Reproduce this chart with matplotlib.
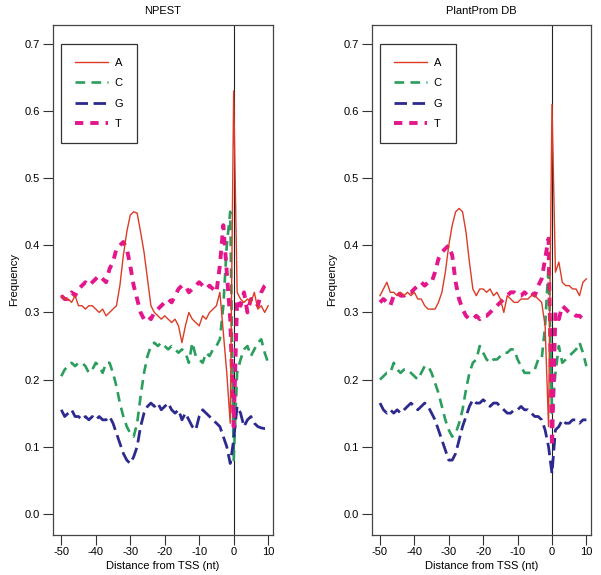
import numpy as np
import matplotlib
matplotlib.use('Agg')
import matplotlib.pyplot as plt

plt.rcParams['font.family'] = ['Liberation Sans', 'DejaVu Sans']
plt.rcParams['axes.unicode_minus'] = False
plt.rcParams['lines.scale_dashes'] = False

# positions relative to the TSS
pos = np.arange(-50, 11)

# NPEST base frequencies
npest_A = [0.325, 0.32, 0.32, 0.315, 0.325, 0.31, 0.31, 0.305, 0.31, 0.31,
           0.305, 0.30, 0.305, 0.295, 0.30, 0.305, 0.31, 0.34, 0.385, 0.42,
           0.445, 0.45, 0.448, 0.42, 0.39, 0.35, 0.31, 0.30, 0.295, 0.29,
           0.295, 0.29, 0.285, 0.29, 0.28, 0.255, 0.28, 0.30, 0.29, 0.285,
           0.28, 0.295, 0.29, 0.30, 0.305, 0.31, 0.33, 0.27, 0.21, 0.135,
           0.63, 0.33, 0.32, 0.315, 0.32, 0.315, 0.33, 0.305, 0.31, 0.30, 0.31]
npest_C = [0.205, 0.215, 0.22, 0.225, 0.22, 0.225, 0.225, 0.22, 0.21, 0.215,
           0.225, 0.22, 0.21, 0.225, 0.225, 0.21, 0.19, 0.165, 0.145, 0.13,
           0.12, 0.115, 0.135, 0.175, 0.21, 0.235, 0.25, 0.255, 0.25, 0.255,
           0.25, 0.245, 0.25, 0.245, 0.24, 0.245, 0.24, 0.225, 0.255, 0.235,
           0.23, 0.225, 0.24, 0.235, 0.245, 0.25, 0.26, 0.31, 0.40, 0.45,
           0.08, 0.21, 0.23, 0.245, 0.25, 0.235, 0.245, 0.255, 0.26, 0.24, 0.225]
npest_G = [0.155, 0.145, 0.15, 0.155, 0.145, 0.145, 0.14, 0.145, 0.14, 0.145,
           0.14, 0.145, 0.14, 0.14, 0.145, 0.135, 0.12, 0.105, 0.09, 0.08,
           0.075, 0.085, 0.10, 0.13, 0.15, 0.16, 0.165, 0.16, 0.165, 0.155,
           0.16, 0.165, 0.155, 0.15, 0.155, 0.14, 0.15, 0.14, 0.13, 0.125,
           0.145, 0.155, 0.15, 0.145, 0.14, 0.135, 0.13, 0.115, 0.10, 0.075,
           0.11, 0.16, 0.15, 0.13, 0.14, 0.145, 0.135, 0.13, 0.128, 0.127, 0.127]
npest_T = [0.325, 0.32, 0.32, 0.33, 0.325, 0.335, 0.34, 0.345, 0.34, 0.345,
           0.35, 0.355, 0.35, 0.345, 0.365, 0.375, 0.395, 0.40, 0.405, 0.395,
           0.37, 0.34, 0.32, 0.30, 0.29, 0.295, 0.29, 0.30, 0.305, 0.31,
           0.315, 0.32, 0.315, 0.325, 0.335, 0.34, 0.34, 0.33, 0.335, 0.34,
           0.345, 0.34, 0.335, 0.34, 0.335, 0.33, 0.37, 0.43, 0.36, 0.29,
           0.13, 0.32, 0.31, 0.33, 0.30, 0.32, 0.32, 0.31, 0.33, 0.34, 0.345]

# PlantProm DB base frequencies
pp_A = [0.325, 0.335, 0.345, 0.33, 0.33, 0.325, 0.33, 0.325, 0.33, 0.325,
        0.33, 0.32, 0.32, 0.31, 0.305, 0.305, 0.305, 0.315, 0.33, 0.36,
        0.40, 0.43, 0.45, 0.455, 0.45, 0.42, 0.375, 0.335, 0.325, 0.335,
        0.335, 0.33, 0.335, 0.325, 0.33, 0.32, 0.30, 0.325, 0.32, 0.315,
        0.315, 0.32, 0.32, 0.32, 0.325, 0.325, 0.32, 0.315, 0.28, 0.13,
        0.61, 0.36, 0.375, 0.345, 0.34, 0.34, 0.335, 0.335, 0.325, 0.345, 0.35]
pp_C = [0.20, 0.205, 0.21, 0.21, 0.225, 0.215, 0.21, 0.215, 0.215, 0.21,
        0.205, 0.20, 0.21, 0.22, 0.22, 0.21, 0.195, 0.18, 0.16, 0.14,
        0.125, 0.115, 0.12, 0.135, 0.155, 0.185, 0.21, 0.225, 0.23, 0.25,
        0.24, 0.23, 0.225, 0.23, 0.23, 0.235, 0.24, 0.24, 0.245, 0.245,
        0.23, 0.22, 0.21, 0.21, 0.21, 0.215, 0.23, 0.23, 0.28, 0.37,
        0.15, 0.21, 0.25, 0.225, 0.23, 0.235, 0.24, 0.245, 0.255, 0.24, 0.22]
pp_G = [0.165, 0.155, 0.15, 0.155, 0.15, 0.155, 0.15, 0.155, 0.16, 0.165,
        0.16, 0.155, 0.16, 0.165, 0.16, 0.15, 0.14, 0.125, 0.11, 0.095,
        0.08, 0.08, 0.09, 0.11, 0.13, 0.145, 0.16, 0.17, 0.165, 0.165,
        0.17, 0.165, 0.16, 0.165, 0.165, 0.16, 0.155, 0.15, 0.15, 0.155,
        0.155, 0.16, 0.155, 0.155, 0.15, 0.145, 0.145, 0.14, 0.125, 0.10,
        0.06, 0.125, 0.13, 0.14, 0.135, 0.135, 0.14, 0.14, 0.135, 0.14, 0.14]
pp_T = [0.315, 0.32, 0.315, 0.31, 0.325, 0.33, 0.325, 0.325, 0.33, 0.33,
        0.335, 0.34, 0.345, 0.34, 0.345, 0.345, 0.36, 0.38, 0.39, 0.395,
        0.40, 0.385, 0.345, 0.32, 0.305, 0.295, 0.29, 0.29, 0.295, 0.29,
        0.295, 0.295, 0.30, 0.305, 0.31, 0.315, 0.32, 0.325, 0.33, 0.33,
        0.325, 0.325, 0.33, 0.325, 0.33, 0.325, 0.34, 0.35, 0.38, 0.41,
        0.10, 0.30, 0.29, 0.31, 0.305, 0.30, 0.30, 0.295, 0.295, 0.29, 0.29]

titles = ['NPEST', 'PlantProm DB']
yticks = [0.0, 0.1, 0.2, 0.3, 0.4, 0.5, 0.6, 0.7]
xticks = [-50, -40, -30, -20, -10, 0, 10]

# style per base: colour, width, dash pattern
styles = {
    'A': dict(color='#dc3b26', lw=1.0, dashes=None),
    'C': dict(color='#2a9e5c', lw=1.9, dashes=(7, 4.5)),
    'G': dict(color='#2c2a8e', lw=2.0, dashes=(9, 4)),
    'T': dict(color='#e3168b', lw=2.8, dashes=(6, 5)),
}

fig = plt.figure(figsize=(6.01, 5.75), dpi=100)
ax1 = fig.add_axes([0.0882, 0.0696, 0.366, 0.887])
ax2 = fig.add_axes([0.6185, 0.0696, 0.3652, 0.887])

panels = [(ax1, npest_A, npest_C, npest_G, npest_T),
          (ax2, pp_A, pp_C, pp_G, pp_T)]

for i, (ax, a, c, g, t) in enumerate(panels):
    series = {'A': a, 'C': c, 'G': g, 'T': t}
    lines = {}
    for base, z in [('C', 2), ('G', 3), ('T', 4), ('A', 5)]:
        st = styles[base]
        ln, = ax.plot(pos, series[base], color=st['color'], lw=st['lw'],
                      label=base, zorder=z)
        if st['dashes'] is not None:
            ln.set_dashes(st['dashes'])
        lines[base] = ln
    ax.axvline(0, color='#222222', lw=0.8, zorder=1)
    ax.set_xlim(-52.4, 11.4)
    ax.set_ylim(-0.0315, 0.7283)
    ax.set_xticks(xticks)
    ax.set_yticks(yticks)
    ax.set_yticklabels(['%.1f' % v for v in yticks])
    ax.tick_params(direction='out', length=7, width=0.8, labelsize=8,
                   color='#333333')
    ax.tick_params(axis='y', pad=2.5)
    ax.tick_params(axis='x', pad=1.5)
    for sp in ax.spines.values():
        sp.set_linewidth(0.9)
        sp.set_color('#444444')
    ax.set_title(titles[i], fontsize=8, pad=8)
    ax.set_xlabel('Distance from TSS (nt)', fontsize=8, labelpad=3)
    ax.set_ylabel('Frequency', fontsize=8, labelpad=4)
    leg = ax.legend([lines[b] for b in 'ACGT'], list('ACGT'),
                    loc='upper left', bbox_to_anchor=(0.036, 0.963),
                    borderaxespad=0, fontsize=8, handlelength=3.0,
                    handletextpad=0.6, labelspacing=0.95, borderpad=1.25,
                    fancybox=False, framealpha=1)
    leg.get_frame().set_edgecolor('#333333')
    leg.get_frame().set_linewidth(0.9)

fig.savefig('out.png', dpi=100)
